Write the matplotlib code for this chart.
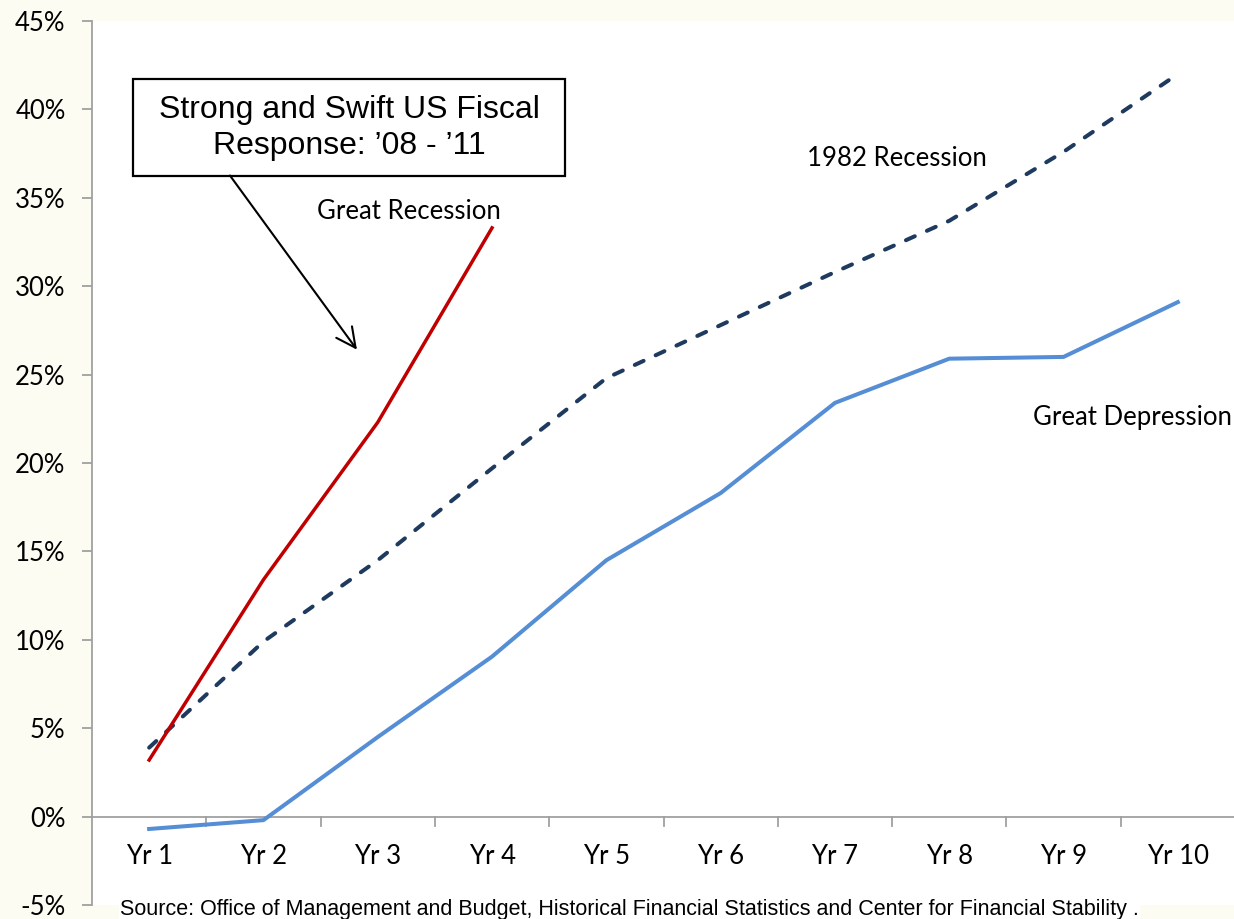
import matplotlib
matplotlib.use('Agg')
import matplotlib.pyplot as plt
from matplotlib.patches import Rectangle
from matplotlib.ticker import FuncFormatter

years = ['Yr 1', 'Yr 2', 'Yr 3', 'Yr 4', 'Yr 5', 'Yr 6', 'Yr 7', 'Yr 8', 'Yr 9', 'Yr 10']
great_recession = [3.2, 13.4, 22.3, 33.3]
recession_1982 = [3.9, 9.9, 14.5, 19.7, 24.8, 27.8, 30.8, 33.7, 37.6, 42.0]
great_depression = [-0.7, -0.2, 4.5, 9.05, 14.5, 18.3, 23.4, 25.9, 26.0, 29.1]
yticks = [-5, 0, 5, 10, 15, 20, 25, 30, 35, 40, 45]

W, H = 1234, 919
fig = plt.figure(figsize=(W / 100, H / 100), dpi=100, facecolor='#FCFCF2')
ax = fig.add_axes([92 / W, (H - 905) / H, (1235 - 92) / W, (905 - 21) / H])
ax.set_facecolor('white')

x = list(range(len(years)))
ax.plot(x[:len(great_recession)], great_recession, color='#C00000', lw=2.5, zorder=3)
ax.plot(x, recession_1982, color='#1F3A5F', lw=2.9, dashes=(2.4, 3.3),
        dash_capstyle='round', zorder=2)
ax.plot(x, great_depression, color='#558ED5', lw=2.9, zorder=2)

ax.set_xlim(-0.5, len(years) - 0.5)
ax.set_ylim(-5, 45)
ax.set_yticks(yticks)
ax.yaxis.set_major_formatter(FuncFormatter(lambda v, p: '%d%%' % v))

# category axis sits on the zero line
for s in ['top', 'right', 'bottom']:
    ax.spines[s].set_visible(False)
ax.spines['left'].set_color('#A0A0A0')
ax.spines['left'].set_linewidth(1.3)
ax.axhline(0, color='#A0A0A0', lw=1.3, zorder=1)
for b in range(1, len(years)):
    ax.plot([b - 0.5, b - 0.5], [0, -0.55], color='#A0A0A0', lw=1.3, zorder=1)
ax.tick_params(axis='y', length=7, color='#A0A0A0', width=1.3, pad=12,
               labelsize=18.5, labelcolor='black')
ax.set_xticks([])
for i, lab in enumerate(years):
    ax.text(i, -2.25, lab, ha='center', va='center', fontsize=18.5, family='Lato')
for t in ax.get_yticklabels():
    t.set_family('Lato')

ax.text(2.27, 34.2, 'Great Recession', fontsize=18.5, family='Lato', ha='center', va='center')
ax.text(6.54, 37.2, '1982 Recession', fontsize=18.5, family='Lato', ha='center', va='center')
ax.text(9.47, 22.6, 'Great Depression', fontsize=18.5, family='Lato', ha='right', va='center')

# callout box with arrow
ax.add_patch(Rectangle((-0.141, 36.26), 3.779, 5.48, fc='white', ec='black',
                       lw=1.6, zorder=4))
ax.text(1.748, 38.95, 'Strong and Swift US Fiscal\nResponse: \u201908 - \u201911',
        fontsize=23, family='Liberation Sans', ha='center', va='center',
        linespacing=1.3, zorder=5)
ax.annotate('', xy=(1.818, 26.41), xytext=(0.707, 36.26),
            arrowprops=dict(arrowstyle='->,head_length=0.7,head_width=0.35',
                            color='black', lw=1.5, shrinkA=0, shrinkB=0,
                            mutation_scale=20), zorder=4)

fig.text(120 / W, (H - 909) / H,
         'Source: Office of Management and Budget, Historical Financial Statistics and Center for Financial Stability .',
         fontsize=15.5, family='Liberation Sans', ha='left', va='center',
         bbox=dict(fc='white', ec='none', pad=1))

fig.savefig('out.png', dpi=100, facecolor=fig.get_facecolor())
